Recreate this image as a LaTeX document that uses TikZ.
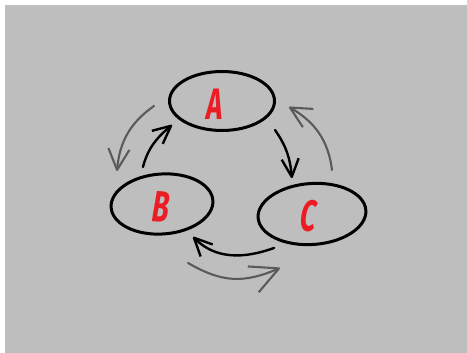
\documentclass[tikz,border=0pt]{standalone}
\usepackage{fontspec}
\usetikzlibrary{arrows.meta,shapes.geometric}
\newfontfamily\brushfont[FakeStretch=0.62,FakeSlant=0.1]{Fira Sans}
\definecolor{canvas}{HTML}{BDBEBD}
\definecolor{smoke}{HTML}{5A5A5A}
\definecolor{brush}{HTML}{EC1C24}
\tikzset{
  bubble/.style={ellipse,draw=black,line width=3pt,inner sep=0pt,outer sep=0pt},
  letter/.style={text=brush,font=\brushfont\bfseries\fontsize{44}{44}\selectfont},
  inkarrow/.style={draw=black,line width=2.4pt,line cap=round,
    -{Straight Barb[length=18pt,width=17pt,line join=round]}},
  ghostarrow/.style={draw=smoke,line width=2.1pt,line cap=round,
    -{Straight Barb[length=21pt,width=21pt,line join=round]}}
}

\begin{document}
\begin{tikzpicture}[x=1pt,y=1pt]
  \fill[white] (0,0) rectangle (467,353);
  \fill[canvas] (5,0) rectangle (467,348);
  % the three states
  \node[bubble,minimum width=105pt,minimum height=59pt,
    label={[letter,xshift=-8.5pt,yshift=-3.5pt]center:A}] (A) at (222,252) {};
  \node[bubble,minimum width=102pt,minimum height=60pt,rotate=4,
    label={[letter,rotate=-4,xshift=-2pt,yshift=-2.7pt]center:B}] (B) at (162,149) {};
  \node[bubble,minimum width=108pt,minimum height=61pt,rotate=4,
    label={[letter,rotate=-4,xshift=-4pt,yshift=-2pt]center:C}] (C) at (312,139) {};
  % inner cycle
  \draw[inkarrow] ([xshift=-17pt,yshift=7pt]B.north) to[out=75,in=220]
    ([xshift=2.5pt,yshift=-24pt]A.west);
  \draw[inkarrow] ([xshift=0.5pt,yshift=-29pt]A.east) to[out=-55,in=95]
    ([xshift=-18pt,yshift=5.5pt]C.north);
  \draw[inkarrow] ([xshift=-40pt,yshift=-3.5pt]C.south) to[out=200,in=-45]
    ([xshift=29pt,yshift=-3pt]B.south);
  % outer cycle
  \coordinate (leftfrom) at (154,247);
  \coordinate (leftto) at (117,182);
  \coordinate (rightfrom) at (332,183);
  \coordinate (rightto) at (289,246);
  \coordinate (lowfrom) at (188,90);
  \coordinate (lowto) at (280,85);
  \draw[ghostarrow] (leftfrom) to[out=215,in=85] (leftto);
  \draw[ghostarrow] (rightfrom) to[out=97,in=-30] (rightto);
  \draw[ghostarrow,-{Straight Barb[length=28pt,width=28pt,line join=round]}]
    (lowfrom) to[out=-30,in=203,looseness=1.1] (lowto);
\end{tikzpicture}
\end{document}
